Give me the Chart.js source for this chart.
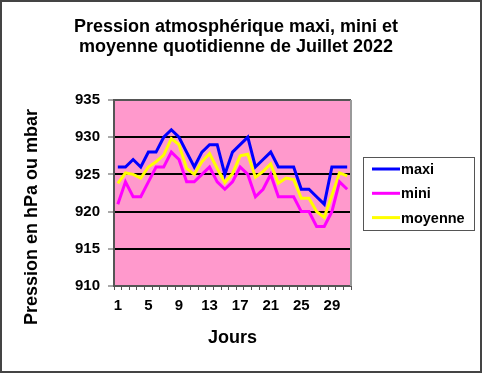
<!DOCTYPE html>
<html>
<head>
<meta charset="utf-8">
<script src="https://cdn.jsdelivr.net/npm/chart.js@4/dist/chart.umd.min.js"></script>
<style>
  html, body { margin: 0; padding: 0; background: #fff; }
  #wrap { width: 482px; height: 373px; }
</style>
</head>
<body>
<div id="wrap"><canvas id="c" width="482" height="373"></canvas></div>
<script>
// jours du mois
var days = [1,2,3,4,5,6,7,8,9,10,11,12,13,14,15,16,17,18,19,20,21,22,23,24,25,26,27,28,29,30,31]
var xTickLabels = [1,5,9,13,17,21,25,29]
var yTicks = [910,915,920,925,930,935]

var maxi = [926,926,927,926,928,928,930,931,930,928,926,928,929,929,925,928,929,930,926,927,928,926,926,926,923,923,922,921,926,926,926]
var mini = [921,924,922,922,924,926,926,928,927,924,924,925,926,924,923,924,926,925,922,923,925,922,922,922,920,920,918,918,920,924,923]
var moyenne = [923.8,925.2,925,924.5,926,926.7,927.6,929.8,929,925.8,925,926.7,927.8,925.8,923.9,925.1,927.5,927.7,924.6,925.4,926.4,923.8,924.5,924.3,921.8,921.8,920,919.2,922.2,925.2,924.8]

var titleLines = ['Pression atmosphérique maxi, mini et', 'moyenne quotidienne de Juillet 2022']

var FONT = "'Liberation Sans', Arial, sans-serif"

var decor = {
	id: 'decor',
	beforeDraw: function(chart){
		var ctx = chart.ctx, a = chart.chartArea
		ctx.save()
		ctx.fillStyle = '#fff'
		ctx.fillRect(0, 0, chart.width, chart.height)
		ctx.fillStyle = '#FF99CC'
		ctx.fillRect(a.left, a.top, a.right - a.left, a.bottom - a.top)
		ctx.restore()
	},
	afterDraw: function(chart){
		var ctx = chart.ctx, a = chart.chartArea
		ctx.save()
		// bord droit de la zone de tracé
		ctx.strokeStyle = '#999'
		ctx.lineWidth = 2
		ctx.beginPath()
		ctx.moveTo(a.right, a.top)
		ctx.lineTo(a.right, a.bottom)
		ctx.stroke()
		// cadre extérieur
		ctx.strokeStyle = '#444'
		ctx.lineWidth = 2
		ctx.strokeRect(1, 1, chart.width - 2, chart.height - 2)
		// titre
		ctx.fillStyle = '#000'
		ctx.font = 'bold 18px ' + FONT
		ctx.textAlign = 'center'
		ctx.textBaseline = 'alphabetic'
		titleLines.forEach(function(t, i){ ctx.fillText(t, 236, 31.5 + i * 20) })
		// titre axe y
		ctx.textBaseline = 'middle'
		ctx.translate(32, 217)
		ctx.rotate(-Math.PI / 2)
		ctx.fillText('Pression en hPa ou mbar', 0, 0)
		ctx.restore()
		// légende
		ctx.save()
		ctx.strokeStyle = '#555'
		ctx.lineWidth = 1
		ctx.strokeRect(363.5, 157.5, 111, 73)
		ctx.font = 'bold 14.5px ' + FONT
		ctx.textAlign = 'left'
		ctx.textBaseline = 'middle'
		chart.data.datasets.forEach(function(ds, i){
			var y = 169 + i * 24.3
			ctx.strokeStyle = ds.borderColor
			ctx.lineWidth = 3
			ctx.beginPath()
			ctx.moveTo(372, y)
			ctx.lineTo(400, y)
			ctx.stroke()
			ctx.fillStyle = '#000'
			ctx.fillText(ds.label, 401, y + 1)
		})
		ctx.restore()
	}
}

new Chart(document.getElementById('c'), {
	type: 'line',
	data: {
		labels: days,
		datasets: [
			{label: 'maxi', data: maxi, borderColor: '#0000FF'},
			{label: 'mini', data: mini, borderColor: '#FF00FF'},
			{label: 'moyenne', data: moyenne, borderColor: '#FFFF00'}
		]
	},
	options: {
		responsive: false,
		animation: false,
		devicePixelRatio: 1,
		layout: {padding: {left: 0, right: 131, top: 100, bottom: 0}},
		elements: {
			line: {borderWidth: 3, tension: 0},
			point: {radius: 0}
		},
		plugins: {
			legend: {display: false},
			tooltip: {enabled: false},
			title: {display: false}
		},
		scales: {
			x: {
				offset: true,
				afterFit: function(s){ s.height = 87 },
				grid: {display: true, drawOnChartArea: false, offset: true, tickLength: 4, color: '#555', lineWidth: 1},
				border: {display: true, color: '#555', width: 2},
				ticks: {
					autoSkip: false, maxRotation: 0, padding: 7, color: '#000',
					font: {family: FONT, size: 15, weight: 'bold'},
					callback: function(v, i){ return xTickLabels.indexOf(days[i]) >= 0 ? String(days[i]) : '' }
				},
				title: {
					display: true, text: 'Jours', color: '#000',
					font: {family: FONT, size: 18, weight: 'bold'},
					padding: {top: 0, bottom: 24}
				}
			},
			y: {
				min: yTicks[0], max: yTicks[yTicks.length - 1],
				afterFit: function(s){ s.width = 114 },
				afterBuildTicks: function(s){ s.ticks = yTicks.map(function(v){ return {value: v} }) },
				grid: {
					lineWidth: 2, tickLength: 6, tickWidth: 1, tickColor: '#555',
					color: function(c){ return (c.tick && (c.tick.value === 935 || c.tick.value === 910)) ? '#555' : '#000' }
				},
				border: {display: true, color: '#555', width: 2},
				ticks: {padding: 8, color: '#000', font: {family: FONT, size: 15, weight: 'bold'}}
			}
		}
	},
	plugins: [decor]
})
</script>
</body>
</html>
